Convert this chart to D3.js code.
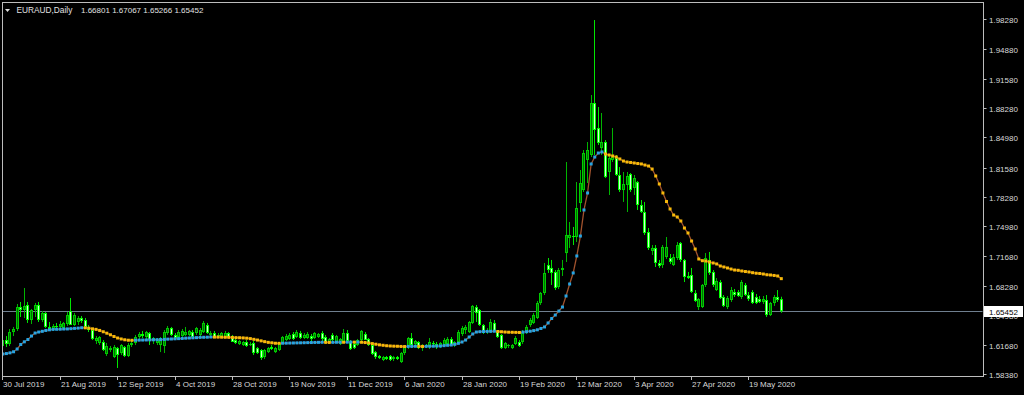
<!DOCTYPE html>
<html><head><meta charset="utf-8">
<script src="https://cdn.jsdelivr.net/npm/d3@7"></script>
<style>html,body{margin:0;padding:0;background:#000;overflow:hidden}</style>
</head><body>
<svg id="c" width="1024" height="395"></svg>
<script>
// ---------- data ----------
const symbolTitle = "EURAUD,Daily";
const lastQuote = [1.66801, 1.67067, 1.65266, 1.65452];
const priceTicks = [1.9828,1.9488,1.9158,1.8828,1.8498,1.8158,1.7828,1.7498,1.7168,1.6828,1.6498,1.6168,1.5838];
const dateTickIdx = [0,16,32,48,64,80,96,112,128,144,160,176,192,208];
const dateTickLabels = ["30 Jul 2019","21 Aug 2019","12 Sep 2019","4 Oct 2019","28 Oct 2019","19 Nov 2019","11 Dec 2019","6 Jan 2020","28 Jan 2020","19 Feb 2020","12 Mar 2020","3 Apr 2020","27 Apr 2020","19 May 2020"];

const opens = [
1.6153,1.6220,1.6175,1.6310,1.6344,1.6591,1.6558,1.6614,1.6445,1.6558,
1.6614,1.6445,1.6524,1.6367,1.6344,1.6378,1.6367,1.6355,1.6400,1.6546,
1.6389,1.6423,1.6468,1.6445,1.6367,1.6333,1.6209,1.6187,1.6198,1.6063,
1.6108,1.6029,1.6130,1.6074,1.6142,1.6041,1.6164,1.6187,1.6254,1.6288,
1.6254,1.6299,1.6220,1.6187,1.6164,1.6153,1.6299,1.6355,1.6277,1.6254,
1.6265,1.6277,1.6277,1.6310,1.6299,1.6277,1.6310,1.6389,1.6277,1.6299,
1.6265,1.6254,1.6254,1.6299,1.6254,1.6220,1.6175,1.6164,1.6198,1.6164,
1.6187,1.6130,1.6108,1.6029,1.6085,1.6142,1.6085,1.6108,1.6187,1.6220,
1.6232,1.6288,1.6254,1.6299,1.6243,1.6243,1.6265,1.6243,1.6254,1.6299,
1.6254,1.6198,1.6277,1.6198,1.6175,1.6198,1.6299,1.6198,1.6175,1.6164,
1.6220,1.6288,1.6232,1.6164,1.6085,1.6041,1.5996,1.6029,1.6041,1.6007,
1.6029,1.5973,1.6074,1.6142,1.6243,1.6175,1.6198,1.6130,1.6164,1.6142,
1.6187,1.6175,1.6142,1.6164,1.6175,1.6232,1.6164,1.6198,1.6288,1.6333,
1.6310,1.6412,1.6591,1.6558,1.6389,1.6310,1.6310,1.6412,1.6310,1.6277,
1.6130,1.6153,1.6130,1.6175,1.6198,1.6198,1.6310,1.6389,1.6412,1.6468,
1.6636,1.6749,1.7063,1.7030,1.6985,1.6816,1.7007,1.7198,1.7367,1.7389,
1.7378,1.7760,1.7906,1.8244,1.8300,1.8884,1.8603,1.8378,1.8446,1.8109,
1.8244,1.8266,1.8075,1.7906,1.7963,1.8086,1.7929,1.7996,1.7738,1.7659,
1.7434,1.7221,1.7255,1.7086,1.7063,1.7153,1.7142,1.7063,1.7142,1.7311,
1.7120,1.6940,1.6951,1.6749,1.6591,1.6591,1.6839,1.7120,1.6985,1.6782,
1.6872,1.6704,1.6591,1.6670,1.6760,1.6760,1.6704,1.6839,1.6726,1.6760,
1.6704,1.6681,1.6648,1.6670,1.6501,1.6636,1.6704,1.66801];
const highs = [
1.6265,1.6265,1.6344,1.6367,1.6625,1.6648,1.6805,1.6648,1.6569,1.6636,
1.6648,1.6546,1.6535,1.6423,1.6400,1.6412,1.6434,1.6423,1.6535,1.6692,
1.6524,1.6490,1.6490,1.6468,1.6389,1.6355,1.6265,1.6265,1.6220,1.6187,
1.6153,1.6164,1.6142,1.6175,1.6153,1.6187,1.6209,1.6277,1.6310,1.6322,
1.6322,1.6310,1.6254,1.6243,1.6254,1.6333,1.6378,1.6367,1.6299,1.6333,
1.6344,1.6367,1.6333,1.6333,1.6367,1.6355,1.6434,1.6412,1.6322,1.6322,
1.6299,1.6310,1.6322,1.6310,1.6277,1.6243,1.6220,1.6209,1.6220,1.6198,
1.6209,1.6142,1.6119,1.6119,1.6142,1.6164,1.6142,1.6198,1.6265,1.6288,
1.6299,1.6310,1.6333,1.6322,1.6299,1.6310,1.6288,1.6310,1.6299,1.6322,
1.6277,1.6243,1.6299,1.6277,1.6243,1.6344,1.6333,1.6220,1.6198,1.6232,
1.6333,1.6310,1.6243,1.6175,1.6097,1.6052,1.6041,1.6041,1.6052,1.6041,
1.6041,1.6085,1.6164,1.6254,1.6299,1.6220,1.6209,1.6175,1.6175,1.6243,
1.6209,1.6198,1.6198,1.6243,1.6254,1.6254,1.6209,1.6333,1.6378,1.6389,
1.6434,1.6614,1.6614,1.6569,1.6400,1.6355,1.6456,1.6445,1.6333,1.6288,
1.6198,1.6175,1.6175,1.6265,1.6220,1.6333,1.6389,1.6468,1.6524,1.6659,
1.6760,1.7086,1.7142,1.7120,1.7007,1.7030,1.7120,1.8221,1.7547,1.7491,
1.7996,1.8131,1.8356,1.8446,1.8974,1.9817,1.8839,1.8772,1.8468,1.8300,
1.8603,1.8300,1.8165,1.8109,1.8109,1.8097,1.8075,1.8008,1.7794,1.7772,
1.7479,1.7288,1.7288,1.7120,1.7288,1.7378,1.7187,1.7187,1.7322,1.7322,
1.7131,1.6985,1.7030,1.6782,1.6692,1.6850,1.7198,1.7210,1.7007,1.6917,
1.6895,1.6726,1.6715,1.6816,1.6794,1.6782,1.6895,1.6861,1.6760,1.6782,
1.6737,1.6715,1.6715,1.6726,1.6648,1.6726,1.6782,1.67067];
const lows = [
1.6119,1.6142,1.6153,1.6265,1.6322,1.6479,1.6468,1.6412,1.6400,1.6479,
1.6423,1.6423,1.6355,1.6333,1.6322,1.6344,1.6333,1.6333,1.6378,1.6389,
1.6378,1.6389,1.6412,1.6355,1.6310,1.6220,1.6175,1.6164,1.6097,1.6041,
1.6085,1.6018,1.5906,1.6052,1.6029,1.6029,1.6142,1.6164,1.6220,1.6243,
1.6232,1.6164,1.6175,1.6164,1.6085,1.6074,1.6277,1.6265,1.6232,1.6232,
1.6243,1.6265,1.6265,1.6243,1.6277,1.6265,1.6299,1.6288,1.6254,1.6243,
1.6243,1.6243,1.6243,1.6243,1.6198,1.6175,1.6164,1.6153,1.6142,1.6153,
1.6052,1.6063,1.5996,1.6007,1.6074,1.6108,1.6074,1.6097,1.6175,1.6209,
1.6220,1.6220,1.6243,1.6232,1.6232,1.6232,1.6209,1.6232,1.6243,1.6209,
1.6175,1.6187,1.6209,1.6187,1.6164,1.6187,1.6209,1.6108,1.6119,1.6153,
1.6209,1.6220,1.6153,1.6052,1.6007,1.6007,1.5984,1.5996,1.5984,1.5984,
1.5996,1.5962,1.6052,1.6119,1.6130,1.6153,1.6119,1.6097,1.6130,1.6119,
1.6142,1.6119,1.6130,1.6142,1.6164,1.6153,1.6142,1.6175,1.6265,1.6288,
1.6299,1.6400,1.6423,1.6378,1.6288,1.6288,1.6299,1.6310,1.6243,1.6119,
1.6119,1.6130,1.6119,1.6164,1.6142,1.6175,1.6288,1.6367,1.6400,1.6456,
1.6614,1.6726,1.6974,1.6839,1.6782,1.6794,1.6940,1.7097,1.7255,1.7288,
1.7322,1.7659,1.7884,1.7985,1.8277,1.8300,1.8412,1.8300,1.8041,1.7850,
1.8221,1.8064,1.7884,1.7772,1.7659,1.7884,1.7850,1.7682,1.7648,1.7401,
1.7232,1.7176,1.7041,1.7030,1.7030,1.7131,1.7075,1.7052,1.7120,1.7097,
1.6872,1.6906,1.6749,1.6648,1.6558,1.6580,1.6816,1.6951,1.6816,1.6771,
1.6681,1.6591,1.6569,1.6648,1.6704,1.6704,1.6681,1.6715,1.6659,1.6625,
1.6625,1.6636,1.6625,1.6479,1.6490,1.6603,1.6648,1.65266];
const closes = [
1.6220,1.6175,1.6310,1.6344,1.6591,1.6558,1.6603,1.6445,1.6558,1.6614,
1.6445,1.6524,1.6367,1.6344,1.6378,1.6367,1.6400,1.6412,1.6501,1.6389,
1.6501,1.6468,1.6434,1.6367,1.6333,1.6232,1.6243,1.6254,1.6108,1.6153,
1.6130,1.6142,1.6052,1.6164,1.6041,1.6164,1.6187,1.6254,1.6288,1.6265,
1.6310,1.6220,1.6243,1.6220,1.6243,1.6310,1.6355,1.6277,1.6243,1.6310,
1.6322,1.6310,1.6322,1.6254,1.6355,1.6333,1.6412,1.6299,1.6299,1.6254,
1.6277,1.6299,1.6299,1.6254,1.6198,1.6187,1.6209,1.6198,1.6153,1.6175,
1.6074,1.6074,1.6018,1.6108,1.6130,1.6119,1.6130,1.6187,1.6254,1.6265,
1.6277,1.6232,1.6310,1.6243,1.6277,1.6288,1.6232,1.6299,1.6288,1.6232,
1.6187,1.6232,1.6220,1.6265,1.6232,1.6299,1.6209,1.6119,1.6130,1.6220,
1.6322,1.6220,1.6164,1.6063,1.6029,1.6018,1.6029,1.6007,1.5996,1.6029,
1.6007,1.6074,1.6142,1.6243,1.6164,1.6209,1.6130,1.6153,1.6142,1.6198,
1.6175,1.6142,1.6187,1.6220,1.6232,1.6164,1.6198,1.6310,1.6355,1.6367,
1.6423,1.6603,1.6524,1.6389,1.6310,1.6322,1.6423,1.6322,1.6254,1.6130,
1.6187,1.6164,1.6164,1.6243,1.6153,1.6310,1.6367,1.6445,1.6501,1.6636,
1.6749,1.6974,1.7007,1.6974,1.6805,1.7007,1.7030,1.7401,1.7401,1.7378,
1.7704,1.7985,1.8322,1.8356,1.8884,1.8581,1.8435,1.8446,1.8052,1.8266,
1.8277,1.8075,1.7906,1.7974,1.8064,1.7906,1.8041,1.7738,1.7659,1.7423,
1.7255,1.7255,1.7086,1.7052,1.7266,1.7266,1.7097,1.7153,1.7288,1.7120,
1.6929,1.6917,1.6760,1.6659,1.6681,1.6839,1.7142,1.6974,1.6839,1.6884,
1.6692,1.6603,1.6692,1.6782,1.6726,1.6715,1.6872,1.6726,1.6681,1.6636,
1.6636,1.6648,1.6681,1.6501,1.6636,1.6704,1.6670,1.65452];
const maValues = [
1.6063,1.6068,1.6076,1.6088,1.6119,1.6170,1.6200,1.6226,1.6265,1.6299,
1.6310,1.6318,1.6328,1.6335,1.6340,1.6341,1.6342,1.6344,1.6345,1.6348,
1.6351,1.6354,1.6358,1.6357,1.6353,1.6346,1.6340,1.6328,1.6313,1.6297,
1.6279,1.6260,1.6243,1.6232,1.6223,1.6218,1.6217,1.6218,1.6219,1.6220,
1.6221,1.6222,1.6223,1.6224,1.6225,1.6227,1.6230,1.6232,1.6234,1.6236,
1.6238,1.6241,1.6243,1.6245,1.6247,1.6250,1.6251,1.6252,1.6254,1.6253,
1.6253,1.6252,1.6251,1.6250,1.6249,1.6247,1.6246,1.6244,1.6241,1.6236,
1.6228,1.6220,1.6211,1.6202,1.6194,1.6189,1.6184,1.6183,1.6184,1.6185,
1.6186,1.6187,1.6188,1.6189,1.6190,1.6191,1.6192,1.6193,1.6194,1.6195,
1.6194,1.6193,1.6194,1.6195,1.6196,1.6195,1.6196,1.6197,1.6196,1.6197,
1.6195,1.6192,1.6187,1.6180,1.6173,1.6166,1.6161,1.6156,1.6153,1.6151,
1.6150,1.6148,1.6147,1.6148,1.6149,1.6150,1.6149,1.6148,1.6149,1.6150,
1.6151,1.6152,1.6153,1.6157,1.6161,1.6164,1.6172,1.6183,1.6198,1.6220,
1.6254,1.6288,1.6310,1.6314,1.6316,1.6317,1.6318,1.6319,1.6316,1.6313,
1.6310,1.6308,1.6307,1.6306,1.6305,1.6309,1.6314,1.6319,1.6326,1.6335,
1.6350,1.6367,1.6412,1.6462,1.6501,1.6546,1.6591,1.6715,1.6850,1.6974,
1.7165,1.7389,1.7682,1.7873,1.8199,1.8277,1.8322,1.8334,1.8311,1.8300,
1.8289,1.8277,1.8255,1.8232,1.8221,1.8216,1.8210,1.8204,1.8199,1.8187,
1.8176,1.8142,1.8064,1.7974,1.7873,1.7777,1.7693,1.7625,1.7603,1.7558,
1.7479,1.7423,1.7333,1.7243,1.7131,1.7112,1.7108,1.7097,1.7086,1.7075,
1.7052,1.7041,1.7030,1.7018,1.7007,1.7004,1.6996,1.6990,1.6985,1.6977,
1.6971,1.6968,1.6962,1.6954,1.6951,1.6946,1.6940,1.6910];

// ---------- layout ----------
const L = 2, T = 2, R = 983, B = 376;
const N = closes.length;
const svg = d3.select("#c");
const x = d3.scaleLinear().domain([0, N - 1]).range([2.3, 2.3 + 3.5875 * (N - 1)]);
const y = d3.scaleLinear().domain([1.58158, 2.00083]).range([B, 3]);
const font = "'Liberation Sans', Arial, sans-serif";

svg.append("rect").attr("width", 1024).attr("height", 395).attr("fill", "#000");

const defs = svg.append("defs");
defs.append("clipPath").attr("id", "plot")
  .append("rect").attr("x", L + 0.5).attr("y", T + 0.5).attr("width", R - L - 1).attr("height", B - T - 1);

const g = svg.append("g").attr("clip-path", "url(#plot)");

// current price line
const lastY = Math.round(y(lastQuote[3])) + 0.5;
g.append("line").attr("x1", L).attr("x2", R).attr("y1", lastY).attr("y2", lastY)
  .attr("stroke", "#6f7f8f").attr("stroke-width", 1);

// candles
const idx = d3.range(N);
const cx = i => Math.round(x(i));
const bull = i => closes[i] >= opens[i];
const bodyTop = i => y(Math.max(opens[i], closes[i]));
const bodyH = i => y(Math.min(opens[i], closes[i])) - bodyTop(i);
const cg = g.append("g");
cg.selectAll("line.w").data(idx).join("line").attr("class", "w")
  .attr("x1", i => cx(i) + 0.5).attr("x2", i => cx(i) + 0.5)
  .attr("y1", i => y(highs[i])).attr("y2", i => y(lows[i]))
  .attr("stroke", i => bull(i) ? "#00b400" : "#00e600").attr("stroke-width", 1);
cg.selectAll("rect.b").data(idx).join("rect").attr("class", "b")
  .attr("x", i => cx(i) - 1).attr("width", 3)
  .attr("y", bodyTop)
  .attr("height", i => Math.max(1, bodyH(i)))
  .attr("fill", i => bull(i) ? "#00cc00" : "#00ff00");
cg.selectAll("rect.f").data(idx.filter(i => bodyH(i) > 2.5)).join("rect").attr("class", "f")
  .attr("x", i => cx(i)).attr("width", 1)
  .attr("y", i => bodyTop(i) + 1)
  .attr("height", i => bodyH(i) - 2)
  .attr("fill", i => bull(i) ? "#007000" : "#d2ffd2");

// moving average line with direction dots
const line = d3.line().x(i => x(i) + 0.5).y(i => y(maValues[i]));
g.append("path").datum(idx).attr("d", line).attr("fill", "none").attr("stroke", "#a0522d").attr("stroke-width", 1.3);
g.selectAll("rect.d").data(idx).join("rect").attr("class", "d")
  .attr("x", i => x(i) + 0.5 - 1.5).attr("y", i => y(maValues[i]) - 1.5)
  .attr("width", 3).attr("height", 3)
  .attr("fill", i => (i === 0 || maValues[i] > maValues[i - 1]) ? "#27a4e2" : "#f7b90a");

// frame
svg.append("rect").attr("x", L + 0.5).attr("y", T + 0.5).attr("width", R - L).attr("height", B - T)
  .attr("fill", "none").attr("stroke", "#bdbdbd").attr("stroke-width", 1);

// price axis
const ya = svg.append("g");
priceTicks.forEach(v => {
  const yy = Math.round(y(v)) + 0.5;
  ya.append("line").attr("x1", R + 0.5).attr("x2", R + 3.5).attr("y1", yy).attr("y2", yy).attr("stroke", "#bdbdbd");
  const t = ya.append("text").attr("x", 989).attr("y", yy + 3).attr("fill", "#d8d8d8")
    .attr("font-family", font).attr("font-size", 8).text(v.toFixed(5));
  // the tick label that sits under the last-price box only peeks out below it, as in the terminal
  if (Math.abs(yy - lastY) < 8) {
    defs.append("clipPath").attr("id", "under").append("rect")
      .attr("x", 984).attr("y", lastY + 5.5).attr("width", 40).attr("height", 12);
    t.attr("clip-path", "url(#under)");
  }
});
// last price label
ya.append("rect").attr("x", 984).attr("y", lastY - 5.5).attr("width", 39).attr("height", 11).attr("fill", "#ffffff");
ya.append("text").attr("x", 989).attr("y", lastY + 3).attr("fill", "#000000")
  .attr("font-family", font).attr("font-size", 8).text(lastQuote[3].toFixed(5));

// date axis
const xa = svg.append("g");
dateTickIdx.forEach((d, k) => {
  const xx = cx(d) + 0.5;
  xa.append("line").attr("x1", xx).attr("x2", xx).attr("y1", B + 0.5).attr("y2", B + 4).attr("stroke", "#bdbdbd");
  xa.append("text").attr("x", xx + 0.5).attr("y", 387).attr("fill", "#d8d8d8")
    .attr("font-family", font).attr("font-size", 8).text(dateTickLabels[k]);
});

// title
svg.append("path").attr("d", "M5,9 L10,9 L7.5,12 Z").attr("fill", "#e0e0e0");
svg.append("text").attr("x", 16.5).attr("y", 13).attr("fill", "#e0e0e0")
  .attr("font-family", font).attr("font-size", 8.3).text(symbolTitle);
svg.append("text").attr("x", 81).attr("y", 13).attr("fill", "#e0e0e0")
  .attr("font-family", font).attr("font-size", 8).text(lastQuote.map(v => v.toFixed(5)).join(" "));
</script>
</body></html>
